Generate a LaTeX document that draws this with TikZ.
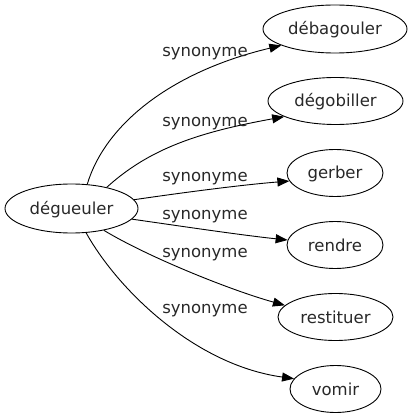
\documentclass[tikz,border=0pt]{standalone}
\usepackage{fontspec}
\setmainfont{DejaVu Sans}
\usetikzlibrary{shapes.geometric,arrows.meta}
\definecolor{txtgray}{RGB}{40,40,40}
\tikzset{
  wnode/.style={draw=black, line width=0.9pt, shape=ellipse, inner sep=0pt,
    minimum height=47pt, text=txtgray, text height=13pt, text depth=1pt,
    font=\fontsize{16.5}{19}\selectfont},
  elabel/.style={anchor=base, text=txtgray, inner sep=0pt,
    font=\fontsize{16.5}{19}\selectfont},
  syn/.style={draw=black, line width=0.9pt, -{Triangle[length=12pt,width=9pt]}}
}
\begin{document}
\begin{tikzpicture}[x=1pt,y=-1pt]
\useasboundingbox (0,0) rectangle (414,419);
\node[wnode, minimum width=133pt, minimum height=49pt] (deg) at (71.5,208.5) {dégueuler};
\node[wnode, minimum width=144pt, minimum height=48pt] (deba) at (335,29) {débagouler};
\node[wnode, minimum width=135pt] (dego) at (335.5,101) {dégobiller};
\node[wnode, minimum width=96pt] (gerb) at (335,173) {gerber};
\node[wnode, minimum width=96pt] (rend) at (335,245) {rendre};
\node[wnode, minimum width=115pt] (rest) at (335.5,317) {restituer};
\node[wnode, minimum width=91pt] (vomi) at (335.5,389) {vomir};

\draw[syn] (deg.57) .. controls (105,125) and (170,72) .. (deba.197);
\draw[syn] (deg.31) .. controls (150,148) and (200,132) .. (dego.197);
\draw[syn] (deg.8) .. controls (180,193) and (240,185) .. (gerb.190);
\draw[syn] (deg.-10) .. controls (180,226) and (240,235) .. (rend.174);
\draw[syn] (deg.-34) .. controls (148,257) and (230,290) .. (rest.167);
\draw[syn] (deg.-59) .. controls (118,290) and (195,365) .. (vomi.166);

\node[elabel] (l1) at (205,57) {synonyme};
\node[elabel] (l2) at (205,126.5) {synonyme};
\node[elabel] (l3) at (205,182) {synonyme};
\node[elabel] (l4) at (205,219.5) {synonyme};
\node[elabel] (l5) at (205,257.5) {synonyme};
\node[elabel] (l6) at (205,313) {synonyme};
\end{tikzpicture}
\end{document}
